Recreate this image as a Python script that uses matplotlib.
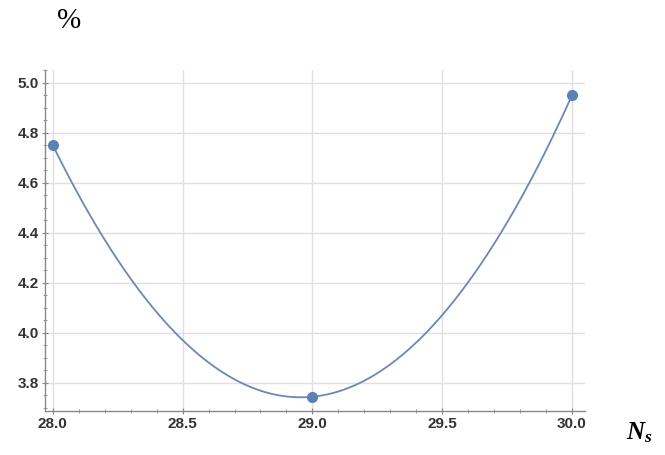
import numpy as np
import matplotlib
matplotlib.use("Agg")
import matplotlib.pyplot as plt
from matplotlib.ticker import MultipleLocator, FormatStrFormatter

# Data
ns_values = [28.0, 29.0, 30.0]
pct_values = [4.75, 3.745, 4.95]
x_ticks = [28.0, 28.5, 29.0, 29.5, 30.0]
y_ticks = [3.8, 4.0, 4.2, 4.4, 4.6, 4.8, 5.0]

line_color = "#6a88b8"
point_color = "#5E81B5"
axis_color = "#8a8a8a"
grid_color = "#e0e0e0"
label_color = "#333333"

plt.rcParams["mathtext.fontset"] = "custom"
plt.rcParams["mathtext.rm"] = "Liberation Serif"
plt.rcParams["mathtext.it"] = "Liberation Serif:italic"
plt.rcParams["mathtext.bf"] = "Liberation Serif:bold:italic"

fig = plt.figure(figsize=(6.65, 4.55), dpi=100)
ax = fig.add_axes([0.0677, 0.0967, 0.812, 0.749])

# Second-order interpolating curve through the points
coef = np.polyfit(ns_values, pct_values, 2)
xs = np.linspace(min(ns_values), max(ns_values), 300)
ax.plot(xs, np.polyval(coef, xs), color=line_color, lw=1.3, zorder=3)
ax.plot(ns_values, pct_values, "o", color=point_color, ms=7, zorder=4)

ax.set_xlim(27.97, 30.05)
ax.set_ylim(3.688, 5.05)
ax.set_xticks(x_ticks)
ax.set_yticks(y_ticks)
ax.xaxis.set_major_formatter(FormatStrFormatter("%.1f"))
ax.yaxis.set_major_formatter(FormatStrFormatter("%.1f"))
ax.xaxis.set_minor_locator(MultipleLocator(0.1))
ax.yaxis.set_minor_locator(MultipleLocator(0.05))

ax.grid(True, which="major", color=grid_color, lw=1.0, zorder=0)
for s in ["top", "right"]:
    ax.spines[s].set_visible(False)
for s in ["left", "bottom"]:
    ax.spines[s].set_color(axis_color)
    ax.spines[s].set_linewidth(1.0)

ax.tick_params(which="major", direction="inout", length=5, width=0.8,
               color=axis_color, pad=2)
ax.tick_params(which="minor", direction="inout", length=3, width=0.6,
               color=axis_color)
for lab in ax.get_xticklabels() + ax.get_yticklabels():
    lab.set_fontfamily("Liberation Sans")
    lab.set_fontweight("bold")
    lab.set_fontsize(11)
    lab.set_color(label_color)

fig.text(0.085, 0.953, "%", fontsize=21, family="Liberation Serif",
         ha="left", va="center")
fig.text(0.942, 0.048, r"$\mathbf{N_s}$", fontsize=18, ha="left",
         va="center")

fig.savefig("out.png", dpi=100)
